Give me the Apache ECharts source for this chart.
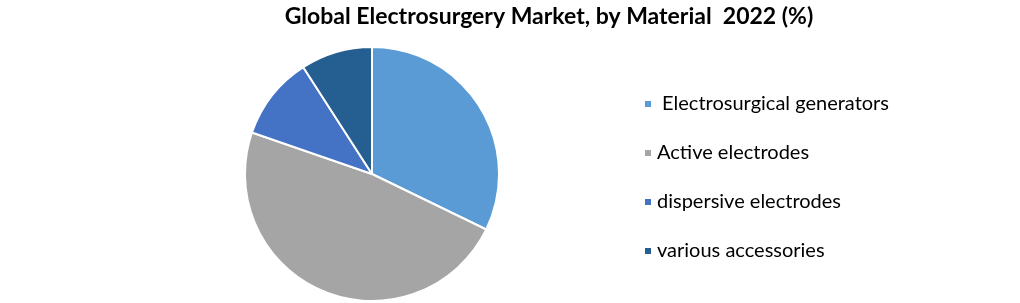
<!DOCTYPE html>
<html>
<head>
<meta charset="utf-8">
<script src="https://cdn.jsdelivr.net/npm/echarts@6/dist/echarts.min.js"></script>
<style>
html,body{margin:0;padding:0;background:#fff;}
#c{width:1020px;height:303px;}
</style>
</head>
<body>
<div id="c"></div>
<script>
var categories = [' Electrosurgical generators', 'Active electrodes', 'dispersive electrodes', 'various accessories'];
var values = [32.2, 48.1, 10.6, 9.1];
var colors = ['#5B9BD5', '#A5A5A5', '#4472C4', '#255E91'];

var chart = echarts.init(document.getElementById('c'));
chart.setOption({
  animation: false,
  backgroundColor: '#fff',
  color: colors,
  title: {
    text: 'Global Electrosurgery Market, by Material  2022 (%)',
    left: 544, textAlign: 'center', top: 0,
    textStyle: {fontFamily: 'Lato', fontWeight: 'bold', fontSize: 23, color: '#000'}
  },
  legend: {
    orient: 'vertical',
    left: 638, top: 88,
    itemWidth: 8, itemHeight: 8,
    itemGap: 27,
    icon: 'rect',
    data: categories,
    textStyle: {fontFamily: 'Lato', fontSize: 20, color: '#000', lineHeight: 22}
  },
  series: [{
    type: 'pie',
    center: [372, 174],
    radius: 127,
    startAngle: 90,
    clockwise: true,
    label: {show: false},
    labelLine: {show: false},
    itemStyle: {borderColor: '#fff', borderWidth: 2},
    emphasis: {disabled: true},
    data: categories.map(function (c, i) { return {name: c, value: values[i]}; })
  }]
});
</script>
</body>
</html>
